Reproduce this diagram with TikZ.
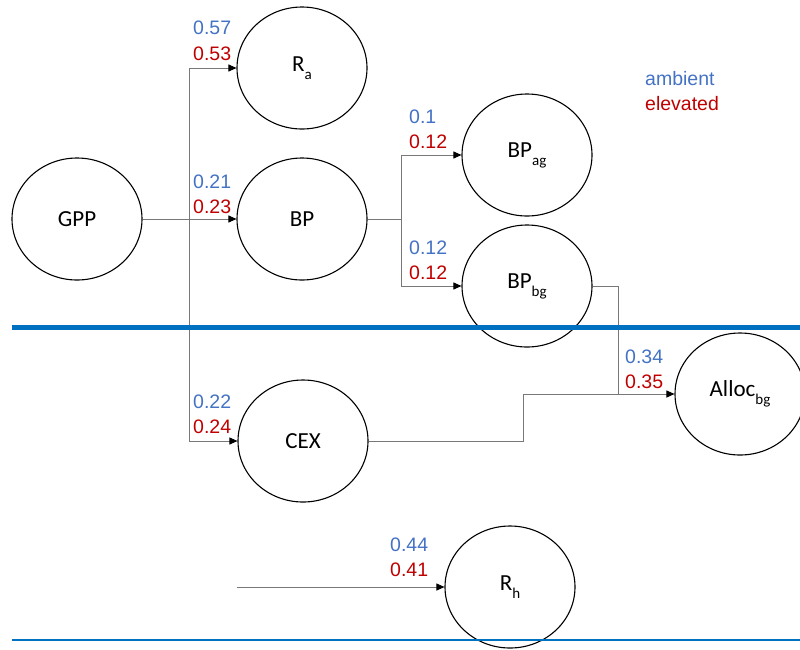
\documentclass[tikz,border=0pt]{standalone}
\usepackage{fontspec}
\setmainfont{Carlito}
\newfontfamily\numfont{Liberation Sans}
\usetikzlibrary{shapes.geometric,arrows.meta}
\definecolor{ambblue}{RGB}{68,114,196}
\definecolor{elevred}{RGB}{192,0,0}
\definecolor{sepblue}{RGB}{0,112,192}
\definecolor{conngray}{RGB}{120,120,120}
\newcommand\lowsub[1]{\raisebox{-0.35em}{\fontsize{15}{15}\selectfont #1}}
\tikzset{
  pool/.style={ellipse, draw=black, line width=1.1pt, minimum width=130pt, minimum height=122pt, inner sep=0pt, font=\fontsize{23}{25}\selectfont},
  conn/.style={draw=conngray, line width=0.9pt},
  arr/.style={conn, -{Triangle[length=8pt,width=7pt,color=black]}},
  amb/.style={anchor=west, inner sep=0pt, text=ambblue, font=\numfont\fontsize{19.5}{20}\selectfont},
  elev/.style={anchor=west, inner sep=0pt, text=elevred, font=\numfont\fontsize{19.5}{20}\selectfont},
}
\begin{document}
\begin{tikzpicture}[x=1pt,y=-1pt]
\useasboundingbox (0,0) rectangle (800,649);
% nodes
\node[pool] (GPP) at (77,219) {GPP};
\node[pool] (Ra) at (302,68) {R\lowsub{a}};
\node[pool] (BP) at (302,219) {BP};
\node[pool] (BPag) at (527,155) {BP\lowsub{ag}};
\node[pool] (BPbg) at (527,286) {BP\lowsub{bg}};
\node[pool] (Alloc) at (740,394) {Alloc\lowsub{bg}};
\node[pool] (CEX) at (303,441) {CEX};
\node[pool] (Rh) at (510,587) {R\lowsub{h}};
% junctions
\coordinate (j1) at (189,219);
\coordinate (j2) at (401,219);
\coordinate (j3) at (618,394);
\coordinate (j4) at (523,394);
\coordinate (rhs) at (237,587);
% connectors
\draw[arr] (GPP.east) -- (BP.west);
\draw[arr] (j1) |- (Ra.west);
\draw[arr] (j1) |- (CEX.west);
\draw[conn] (BP.east) -- (j2);
\draw[arr] (j2) |- (BPag.west);
\draw[arr] (j2) |- (BPbg.west);
\draw[conn] (BPbg.east) -| (j3);
\draw[conn] (CEX.east) -| (j4);
\draw[arr] (j4) -- (Alloc.west);
\draw[arr] (rhs) -- (Rh.west);
% labels
\node[amb] (la1) at (193,28) {0.57};
\node[elev] (le1) at (193,54) {0.53};
\node[amb] (la2) at (193,182) {0.21};
\node[elev] (le2) at (193,207) {0.23};
\node[amb] (la3) at (409,117) {0.1};
\node[elev] (le3) at (409,142) {0.12};
\node[amb] (la4) at (409,248) {0.12};
\node[elev] (le4) at (409,273) {0.12};
\node[amb] (la5) at (625,357) {0.34};
\node[elev] (le5) at (625,382) {0.35};
\node[amb] (la6) at (193,402) {0.22};
\node[elev] (le6) at (193,427) {0.24};
\node[amb] (la7) at (390,545) {0.44};
\node[elev] (le7) at (390,570) {0.41};
% legend
\node[amb] (lgA) at (645,79) {ambient};
\node[elev] (lgE) at (645,104) {elevated};
% separators
\draw[sepblue, line width=5pt] (12,327) -- (800,327);
\draw[sepblue, line width=2.5pt] (12,640) -- (800,640);
\end{tikzpicture}
\end{document}
